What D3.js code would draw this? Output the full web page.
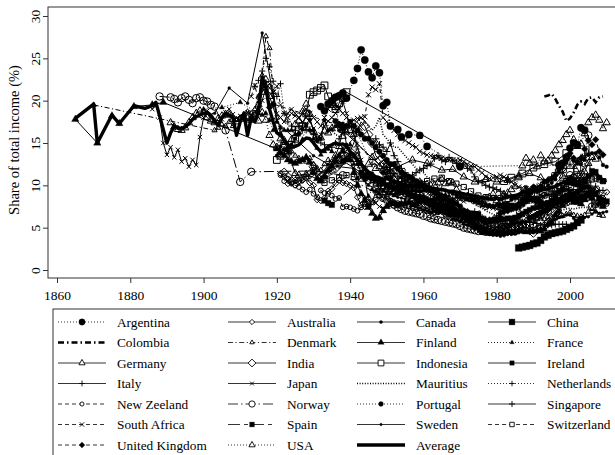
<!DOCTYPE html>
<html>
<head>
<meta charset="utf-8">
<script src="https://cdn.jsdelivr.net/npm/d3@7"></script>
<style>
  body { margin: 0; background: #fff; }
  text { font-family: "Liberation Serif", "Times New Roman", serif; fill: #000; }
</style>
</head>
<body>
<div id="chart"></div>
<script>
// Each segment: [first year, value, value, ...] for consecutive years
var argentina = [[1932, 19.3, 18.8, 19.6, 20.0, 20.4, 20.6, 20.9, 20.3],
  [1941, 22.4, 23.8, 26.0, 24.8, 23.4, 22.7, 24.1, 23.3, 19.4, 19.8, 17.0],
  [1953, 16.6, 15.7], [1956, 16.0], [1959, 15.9], [1961, 14.6], [1970, 12.2],
  [1997, 12.4, 12.6, 13.3, 14.4, 15.0, 14.8, 16.8, 16.5]];
var australia = [[1921, 11.4, 11.0, 10.2, 10.4, 10.6, 10.5, 10.6, 10.9, 10.3],
  [1930, 10.0, 8.3, 8.2, 8.5, 9.3, 9.6, 10.2, 10.6, 10.3, 10.2],
  [1940, 10.0, 9.7, 8.6, 7.7, 7.5, 7.6, 8.1, 9.2, 10.0, 10.7],
  [1950, 11.6, 11.3, 9.8, 9.4, 9.3, 9.0, 8.6, 7.9, 7.9, 8.0],
  [1960, 7.4, 7.3, 7.0, 6.9, 6.9, 6.9, 6.6, 6.6, 6.5, 6.4],
  [1970, 6.3, 6.0, 5.9, 5.9, 5.6, 5.3, 5.0, 4.8, 4.8, 4.7],
  [1980, 4.8, 4.7, 4.8, 5.1, 5.4, 5.8, 6.3, 6.6, 6.8, 6.4],
  [1990, 6.3, 6.6, 6.7, 6.9, 7.1, 7.5, 7.6, 7.8, 7.9, 8.1],
  [2000, 8.8, 8.5, 8.6, 8.7, 8.9, 9.0, 9.5, 9.5, 9.0, 8.5], [2010, 9.2]];
var canada = [[1920, 13.5, 14.6, 14.2, 14.0, 14.8, 15.5, 16.0, 16.6, 17.2, 17.8],
  [1930, 16.5, 15.2, 15.5, 17.7, 16.5, 16.6, 17.0, 16.5, 17.3, 14.8],
  [1940, 13.6, 13.6, 12.5, 11.6, 10.6, 10.9, 11.4, 10.9, 10.6, 10.5],
  [1950, 11.0, 10.3, 9.6, 9.6, 9.8, 9.8, 9.7, 9.4, 9.3, 9.3],
  [1960, 9.4, 9.4, 9.5, 9.4, 9.5, 9.5, 9.4, 9.2, 9.0, 8.9],
  [1970, 8.8, 8.6, 8.5, 8.4, 8.3, 8.2, 8.0, 7.8, 7.7, 7.6],
  [1980, 7.7, 7.5, 7.9, 7.9, 8.3, 8.6, 8.9, 9.3, 9.8, 9.5],
  [1990, 9.4, 9.2, 9.4, 9.7, 10.0, 10.3, 10.7, 11.5, 12.1, 12.7],
  [2000, 13.6, 12.9, 12.6, 12.5, 13.0, 13.6, 13.8, 13.8, 13.3, 12.4], [2010, 12.2]];
var china = [[1986, 2.6, 2.7, 2.8, 2.9],
  [1990, 3.1, 3.2, 3.5, 3.9, 4.1, 4.3, 4.4, 4.5, 4.6, 4.8],
  [2000, 5.0, 5.2, 5.6, 5.9]];
var colombia = [[1993, 20.5, 20.6, 20.8, 20.2, 19.4, 18.7, 17.6],
  [2000, 17.9, 18.6, 19.5, 19.9, 19.6, 20.3, 20.4, 19.8, 20.4, 20.5]];
var denmark = [[1870, 19.5], [1903, 16.5, 16.8, 17.2, 17.0, 17.5, 17.0, 17.8],
  [1910, 18.0, 18.4, 18.7, 18.5, 19.0, 20.5, 23.0, 27.6, 26.2, 21.0],
  [1920, 18.0, 16.0, 15.0, 14.5, 14.0, 13.5, 13.2, 13.0, 12.8, 13.2],
  [1930, 12.5, 12.0, 11.8, 12.5, 13.0, 12.8, 13.0, 12.5, 12.7, 13.3],
  [1940, 13.5, 13.0, 14.0, 12.5, 12.0, 11.0, 10.5, 10.2, 10.0, 9.8],
  [1950, 9.5, 9.4, 9.2, 9.0, 9.1, 8.9, 8.7, 8.6, 8.8, 8.5],
  [1960, 8.3, 8.1, 7.9, 7.6, 7.5, 7.3, 7.0, 6.8, 6.5, 6.3],
  [1970, 6.0, 5.8, 5.6, 5.6, 5.5, 5.4, 5.3, 5.2, 5.3, 5.4],
  [1980, 5.3, 5.2, 5.1, 5.2, 5.4, 5.6, 5.8, 5.7, 5.9, 5.8],
  [1990, 6.2, 6.0, 6.1, 6.0, 6.2, 6.0, 6.1, 6.3, 6.4, 6.6],
  [2000, 6.8, 6.5, 6.4, 6.3, 6.5, 6.9, 7.2, 6.9, 6.5, 6.4]];
var finland = [[1865, 17.8], [1871, 15.0], [1875, 18.2], [1877, 17.3], [1881, 19.3], [1886, 19.5], [1889, 19.8],
  [1920, 14.3, 13.8, 13.5, 13.0, 12.8, 12.6, 12.8, 13.0, 13.3, 12.7],
  [1930, 11.5, 10.8, 10.5, 11.0, 11.8, 12.2, 12.8, 13.5, 14.0, 13.0],
  [1940, 13.0, 11.5, 10.0, 9.0, 8.2, 7.4, 6.7, 6.1, 6.2, 7.0],
  [1950, 7.5, 8.0, 7.8, 7.6, 7.8, 7.9, 8.0, 7.7, 7.8, 8.1],
  [1960, 8.2, 8.0, 7.6, 7.4, 7.3, 7.2, 7.0, 6.8, 6.5, 6.5],
  [1970, 6.6, 6.2, 5.9, 5.6, 5.3, 5.0, 4.8, 4.5, 4.4, 4.3],
  [1980, 4.3, 4.4, 4.4, 4.5, 4.5, 4.6, 4.6, 4.7, 4.5, 4.6],
  [1990, 4.6, 4.7, 4.6, 4.8, 5.4, 5.6, 6.5, 6.9, 7.6, 8.3],
  [2000, 8.9, 8.0, 8.0, 7.8, 8.3, 8.9, 8.5, 8.9, 7.9, 7.5]];
var france = [[1900, 19.0], [1905, 19.2], [1910, 19.8], [1915, 18.5, 18.3, 18.5, 17.7, 16.5],
  [1920, 17.5, 16.8, 16.5, 16.5, 16.5, 16.0, 16.2, 15.4, 17.0, 16.5],
  [1930, 15.5, 14.4, 13.6, 14.0, 14.3, 14.0, 13.3, 13.5, 14.3, 14.5],
  [1940, 14.8, 12.5, 10.8, 9.0, 8.5, 8.7, 9.5, 9.3, 9.0, 9.3],
  [1950, 9.0, 9.0, 8.8, 9.0, 9.2, 9.3, 9.3, 9.5, 9.5, 9.3],
  [1960, 9.5, 9.5, 9.3, 9.0, 9.0, 8.9, 8.9, 8.7, 8.4, 8.6],
  [1970, 8.6, 8.5, 8.3, 8.2, 8.0, 7.9, 7.6, 7.6, 7.5, 7.5],
  [1980, 7.6, 7.6, 7.1, 7.0, 7.1, 7.2, 7.4, 7.7, 8.0, 8.3],
  [1990, 8.2, 7.9, 7.6, 7.7, 7.6, 7.8, 7.8, 7.9, 8.1, 8.2],
  [2000, 8.3, 8.2, 8.0, 8.1, 8.3, 8.7, 8.9]];
var germany = [[1891, 17.4, 16.9, 16.6, 16.5, 16.8, 17.4, 18.0, 18.5, 18.8],
  [1900, 18.6, 18.0, 17.6, 17.4, 17.9, 18.2, 18.4, 18.3, 17.8, 17.5],
  [1910, 17.8, 18.0, 17.9, 17.7, 18.4, 19.5, 21.0, 22.5, 20.5],
  [1925, 11.4, 11.2], [1928, 11.3], [1932, 10.6, 11.0, 12.0], [1936, 13.5, 14.6, 16.5],
  [1950, 11.6], [1957, 13.0], [1961, 12.6], [1965, 11.8], [1968, 11.9], [1971, 11.0],
  [1974, 10.4], [1977, 10.7], [1980, 10.4], [1983, 10.6], [1986, 11.1], [1989, 11.4],
  [1992, 10.9], [1995, 9.6], [1998, 11.1], [2001, 11.1, 10.5, 11.0, 11.6, 12.6, 13.3, 13.1]];
var india = [[1922, 11.5, 11.0, 10.5, 10.2, 10.5, 10.8, 11.0, 11.3],
  [1930, 12.2, 11.5, 11.0, 11.3, 11.5, 11.8, 12.0, 12.5, 13.0, 13.4],
  [1940, 14.0, 15.0, 16.5, 17.5, 17.0, 16.0, 15.0, 13.5, 13.0, 12.5],
  [1950, 12.2, 12.0, 11.6, 11.2, 10.8, 10.8, 10.3, 10.0, 9.7, 9.6],
  [1960, 9.5, 9.1, 8.8, 8.6, 8.3, 8.5, 8.2, 7.6, 7.2, 6.8],
  [1970, 6.5, 6.3, 6.0, 5.8, 5.6, 5.6, 5.2, 5.0, 4.8, 4.7],
  [1980, 4.5, 4.6, 4.4, 4.8, 5.1, 5.4, 5.6, 5.2, 5.0, 4.7],
  [1990, 4.4, 4.8, 5.0, 5.2, 5.6, 6.0, 6.6, 7.7, 8.4, 9.0]];
var indonesia = [[1920, 13.0, 13.5, 14.6, 14.0, 14.8, 15.5, 16.5, 17.0, 18.5, 20.7],
  [1930, 21.0, 21.2, 21.5, 21.8, 20.5, 19.6, 19.0, 19.7, 20.3, 21.0],
  [1982, 10.5], [1984, 10.9], [1987, 11.4], [1990, 12.1], [1993, 12.5], [1996, 12.8],
  [1999, 13.8], [2002, 12.0], [2004, 10.3]];
var ireland = [[1938, 12.9], [1943, 11.5, 11.2, 11.0, 10.8, 10.6, 10.4, 10.2],
  [1950, 10.0], [1953, 9.5], [1956, 9.0], [1959, 8.6], [1964, 7.1, 7.0, 6.9, 6.8, 6.8, 6.7],
  [1970, 6.7, 6.8, 6.7, 6.7, 6.6, 6.6, 6.1, 5.6, 5.8, 5.9],
  [1980, 6.0, 6.1, 6.0, 6.1, 6.1, 6.2, 6.4, 6.6, 6.9, 7.1],
  [1990, 7.3, 7.4, 7.5, 7.7, 7.9, 8.2, 8.7, 9.2, 9.6, 10.3],
  [2000, 10.3, 10.2, 10.1, 9.9, 10.4, 11.1, 11.7, 11.6, 10.9, 10.5]];
var italy = [[1974, 6.9, 6.3, 6.2, 6.0, 5.9, 6.0],
  [1980, 6.4, 6.7, 6.8, 7.1, 7.2, 7.4, 7.8, 7.9, 8.1, 8.2],
  [1990, 8.4, 8.5, 8.6, 8.8, 8.9, 8.9, 9.0, 9.2, 9.3, 9.6],
  [2000, 9.4, 9.5, 9.5, 9.2, 9.3, 9.3, 9.6, 9.9, 9.4, 9.4]];
var japan = [[1886, 19.0, 19.5, 18.0, 15.0],
  [1890, 13.6, 14.5, 13.3, 14.2, 12.8, 13.2, 12.2, 13.0, 12.4, 15.7],
  [1900, 18.0, 18.8, 18.3, 17.6, 17.2, 17.8, 18.6, 19.0, 18.4, 17.9],
  [1910, 18.2, 18.0, 18.6, 18.3, 17.8, 18.5, 20.0, 21.5, 22.0, 21.0],
  [1920, 18.5, 18.0, 17.5, 18.5, 19.0, 18.5, 18.0, 17.5, 18.0, 17.5],
  [1930, 16.7, 15.5, 16.0, 17.0, 17.6, 18.0, 18.5, 19.2, 19.9, 18.5],
  [1940, 17.0, 16.0, 14.5, 13.0, 11.0, 8.2], [1947, 7.9, 7.5, 7.3],
  [1950, 7.5, 7.6, 7.8, 7.9, 7.8, 7.7, 7.9, 7.7, 7.6, 7.9],
  [1960, 8.2, 8.3, 8.1, 8.0, 7.9, 7.6, 7.7, 7.9, 8.0, 8.2],
  [1970, 8.3, 8.1, 8.4, 8.6, 8.3, 7.8, 7.7, 7.5, 7.4, 7.3],
  [1980, 7.2, 7.1, 7.0, 7.1, 7.2, 7.4, 7.6, 7.9, 8.2, 8.5],
  [1990, 8.1, 7.9, 7.6, 7.5, 7.3, 7.3, 7.4, 7.5, 7.6, 7.9],
  [2000, 8.2, 8.0, 8.4, 8.6, 9.0, 9.2]];
var mauritius = [[1933, 17.6, 17.0, 16.5, 16.0, 15.8, 16.2, 16.5],
  [1940, 16.8, 17.2, 17.5, 18.0, 17.5, 17.0, 16.5, 17.0, 18.0, 16.0],
  [1950, 15.5, 15.0, 14.5, 14.5, 14.0, 13.5, 13.0, 12.5, 12.0, 11.8],
  [1960, 11.5, 11.0, 10.8, 10.5, 10.0, 9.8, 9.5, 9.2, 9.0, 8.8],
  [1970, 8.6, 8.4, 8.2, 8.0, 7.8, 7.5, 7.3, 7.0, 6.8, 6.6],
  [1980, 6.4, 6.3, 6.1, 6.0, 6.0, 6.0, 6.2, 6.3, 6.4, 6.5],
  [1990, 6.5, 6.6, 6.5, 6.4, 6.5, 6.5, 6.8, 7.0, 7.1, 7.2],
  [2000, 7.3, 7.2, 7.3, 7.4, 7.4, 7.4, 7.6, 7.9, 8.1]];
var netherlands = [[1914, 21.7, 22.4, 23.5, 25.0, 24.0, 22.3],
  [1920, 20.5, 22.0, 18.5, 17.5, 17.0, 16.5, 17.0, 17.0, 16.5, 16.6],
  [1930, 16.0, 15.5, 15.0, 14.8, 14.5, 14.5, 15.0, 15.5, 16.5, 17.0],
  [1941, 17.0], [1946, 12.5],
  [1950, 12.1, 11.8, 11.4, 11.0, 10.8, 10.6, 10.4, 10.2, 10.0, 9.9],
  [1960, 9.9, 9.6, 9.2, 8.9, 8.6, 8.5, 8.2, 7.8, 7.4, 7.0],
  [1970, 6.7, 6.5, 6.3, 6.1, 6.0, 6.0, 5.9, 5.9, 5.8, 5.8],
  [1980, 5.9, 5.7, 5.5, 5.4, 5.5, 5.5, 5.5, 5.6, 5.6, 5.6],
  [1990, 5.6, 5.5, 5.3, 5.4, 5.3, 5.3, 5.4, 5.4, 5.4, 5.4]];
var newZeeland = [[1921, 11.2, 10.5, 10.8, 10.2, 10.0, 9.8, 9.5, 9.2, 9.5],
  [1930, 9.0, 8.6, 9.4, 9.1, 9.0, 8.8, 8.4, 8.5, 7.4, 7.5],
  [1940, 7.4, 7.2, 7.0, 7.4, 7.8, 7.5, 8.0, 8.3, 8.8, 8.5],
  [1950, 8.7, 8.2, 8.0, 7.9, 7.8, 7.6, 7.5, 7.3, 7.2, 7.3],
  [1960, 7.2, 7.0, 6.9, 6.8, 6.8, 6.9, 6.5, 6.4, 6.3, 6.2],
  [1970, 6.1, 6.0, 6.0, 6.1, 6.0, 6.0, 5.9, 5.8, 5.7, 5.7],
  [1980, 5.7, 5.5, 5.5, 5.6, 5.8, 5.9, 6.9, 7.7, 8.6, 8.5],
  [1990, 8.2, 8.3, 8.6, 8.9, 9.1, 8.5, 9.0, 9.3, 9.1, 9.6],
  [2000, 9.5, 8.6, 8.9, 8.5, 8.7, 8.5, 8.5, 7.8, 7.7, 7.8], [2010, 7.8]];
var norway = [[1888, 20.5], [1891, 20.4, 20.2, 19.8, 20.3, 20.5, 20.1, 19.7, 20.3, 20.4],
  [1900, 20.0, 19.9, 19.5, 19.3], [1906, 16.5], [1910, 10.4], [1913, 11.6],
  [1930, 11.7], [1938, 11.2], [1948, 8.9, 8.5],
  [1950, 8.3, 8.0, 7.7, 7.4, 7.2, 7.0, 6.9, 6.8, 6.7, 6.6],
  [1960, 6.4, 6.3, 6.1, 6.0, 5.9, 5.8, 5.7, 5.6, 5.5, 5.4],
  [1970, 5.2, 5.0, 4.9, 4.8, 4.7, 4.6, 4.6, 4.5, 4.5, 4.6],
  [1980, 4.6, 4.7, 4.8, 4.9, 5.0, 5.1, 5.3, 5.4, 5.4, 5.3],
  [1990, 5.4, 6.4, 6.6, 6.9, 7.0, 7.8, 8.2, 8.4, 8.1, 8.0],
  [2000, 11.2, 10.9, 11.0, 11.3, 12.6, 15.9, 7.5, 7.8, 8.0, 7.9]];
var portugal = [[1936, 17.6, 17.2, 16.8, 17.0],
  [1940, 17.5, 17.0, 16.5, 16.0, 15.5, 15.5, 15.0, 14.5, 14.0, 13.5],
  [1950, 13.0, 12.5, 12.5, 12.0, 11.5, 11.2, 11.0, 10.8, 10.5, 10.2],
  [1960, 10.0, 9.8, 9.5, 9.2, 9.0, 8.7, 8.5, 8.2, 8.0, 7.8],
  [1970, 7.5, 7.0, 6.5, 6.0, 5.0], [1976, 4.5], [1981, 4.3], [1985, 4.4], [1989, 6.2],
  [1990, 6.3, 6.5, 6.8, 7.0, 7.2, 7.7, 8.0, 8.2, 8.5, 8.8],
  [2000, 8.9, 9.0, 9.2, 9.5, 9.8, 9.8]];
var singapore = [[1947, 15.5, 14.8, 14.5],
  [1950, 14.0, 15.0, 13.5, 12.8, 12.0, 11.5, 11.0, 11.2, 11.5, 11.8],
  [1960, 12.0, 12.3, 12.5, 13.2, 13.5, 13.0, 12.8, 13.3, 12.9, 12.6],
  [1970, 12.6, 12.5, 12.0, 11.8, 11.0, 10.5, 10.3, 10.0, 9.8, 9.7],
  [1980, 9.5, 9.3, 9.0, 8.8, 8.6, 8.4, 8.5, 8.8, 9.0, 9.3],
  [1990, 9.5, 9.8, 10.0, 10.3, 10.6, 11.0, 11.5, 11.8, 11.5, 12.0],
  [2000, 12.5, 12.0, 12.8, 13.3, 13.5, 13.8]];
var southAfrica = [[1913, 20.5, 21.8, 20.0, 21.5, 22.0, 21.5, 21.0],
  [1920, 21.7, 19.5, 18.5, 18.0, 18.5, 18.2, 18.0, 18.5, 19.0, 18.5],
  [1930, 18.0, 17.5, 17.0, 18.0, 19.0, 19.5, 19.5, 19.0, 18.5, 18.0],
  [1940, 17.5, 17.7, 17.9, 18.0, 18.1, 20.7, 21.6, 21.3, 22.0, 18.0],
  [1950, 17.5, 17.0, 16.5, 16.0, 15.5, 15.3, 15.0, 14.7, 14.5, 14.0],
  [1960, 13.8, 13.6, 13.5, 13.4, 13.3, 13.2, 13.1, 13.0, 13.0, 13.0],
  [1970, 13.0, 12.8, 12.5, 12.3, 12.2, 11.8, 11.5, 11.0, 10.8, 10.9],
  [1980, 11.0, 11.2, 11.0, 10.6, 10.4, 10.0, 9.8, 9.7, 9.6, 9.5],
  [1990, 9.6, 9.8, 10.0, 10.5]];
var spain = [[1933, 8.2, 7.9, 7.7], [1944, 11.0, 11.3, 11.0, 10.8, 10.5, 10.3],
  [1950, 10.0, 9.8, 9.6, 9.4, 9.7, 9.3, 9.0, 8.8, 8.5],
  [1960, 8.2, 8.0, 7.9, 7.8, 7.7, 7.5, 7.3, 7.2, 7.0, 6.8], [1970, 6.6, 6.5],
  [1981, 7.6, 7.5, 7.4, 7.6, 7.5, 7.6, 7.9, 8.2, 8.4],
  [1990, 8.4, 8.2, 8.0, 7.8, 7.9, 8.0, 8.1, 8.3, 8.4, 8.5],
  [2000, 8.6, 8.5, 8.5, 8.6, 8.7, 8.8, 9.1, 9.0, 8.5, 8.2], [2010, 8.1]];
var sweden = [[1903, 18.5], [1907, 21.5], [1912, 19.7], [1916, 28.0], [1919, 20.5, 17.5],
  [1930, 13.5], [1934, 12.5, 12.3], [1941, 12.0], [1943, 11.0], [1945, 10.0], [1948, 9.5],
  [1950, 9.2, 9.0, 8.8, 8.6, 8.5, 8.4, 8.0, 7.7, 7.5, 7.3],
  [1960, 7.1, 7.0, 6.8, 6.9, 6.8, 6.9, 6.6, 6.4, 6.0, 5.9],
  [1970, 5.7, 5.4, 5.3, 5.1, 4.9, 4.6, 4.5, 4.3, 4.2, 4.1],
  [1980, 4.1, 4.0, 4.1, 4.2, 4.2, 4.3, 4.4, 4.5, 4.6, 4.5],
  [1990, 4.4, 4.7, 4.8, 5.0, 5.3, 5.8, 6.0, 6.2, 6.3, 6.5],
  [2000, 6.5, 6.1, 5.9, 6.0, 6.2, 6.3, 6.6, 6.9, 6.7, 6.8], [2010, 6.9]];
var switzerland = [[1933, 10.3], [1935, 10.6], [1937, 10.9], [1939, 11.2], [1941, 11.0],
  [1943, 10.8], [1945, 10.5], [1947, 10.2], [1949, 9.8], [1951, 9.6], [1953, 9.5],
  [1955, 9.8], [1957, 10.0], [1959, 10.3], [1961, 10.5], [1963, 10.8], [1965, 10.9],
  [1967, 10.5], [1969, 10.2], [1971, 9.8], [1973, 9.3], [1975, 8.8], [1977, 8.6],
  [1979, 8.5], [1981, 8.5], [1983, 8.4], [1985, 8.6], [1987, 8.9], [1989, 9.2],
  [1991, 9.0], [1993, 8.8], [1995, 9.0], [1996, 9.4, 9.9, 10.3, 10.5],
  [2000, 10.8, 10.5, 10.2, 10.3, 10.5, 10.6, 10.7, 10.8, 10.7, 10.5]];
var unitedKingdom = [[1918, 19.2, 19.6], [1937, 17.1, 16.9], [1949, 11.5],
  [1951, 10.9, 10.4, 9.9, 9.6, 9.3, 9.1, 8.8, 8.7, 8.7],
  [1960, 8.6, 8.3, 8.2, 8.4, 8.4, 8.1, 7.7, 7.5, 7.3, 7.0],
  [1970, 7.0, 7.0, 6.9, 6.6, 6.4, 6.1, 5.9, 5.9, 5.9, 5.9],
  [1980, 5.9, 6.7, 6.9, 7.0, 7.3, 7.5, 7.8, 8.3, 8.6, 9.0],
  [1990, 9.8, 9.5, 9.8, 10.4, 10.6, 10.8, 11.2, 12.0, 12.5, 13.0],
  [2000, 13.8, 13.2, 12.8, 13.2, 14.3, 15.3, 14.8, 15.4, 14.0, 13.6]];
var usa = [[1913, 18.0, 18.2, 17.6, 18.6, 17.7, 15.9, 14.8],
  [1920, 14.5, 15.5, 15.3, 14.0, 15.4, 17.2, 17.6, 18.7, 19.6, 18.4],
  [1930, 16.4, 15.6, 15.6, 16.4, 16.2, 16.7, 19.2, 17.1, 15.8, 16.3],
  [1940, 16.5, 16.0, 13.4, 12.3, 11.3, 12.5, 13.3, 12.0, 12.2, 11.8],
  [1950, 12.8, 11.6, 10.8, 10.2, 10.7, 10.9, 10.6, 10.3, 10.0, 10.4],
  [1960, 10.0, 10.1, 10.0, 10.0, 10.3, 10.7, 10.2, 10.3, 10.3, 9.5],
  [1970, 8.9, 8.7, 8.7, 8.4, 8.5, 8.4, 8.3, 8.4, 8.6, 9.0],
  [1980, 8.2, 8.0, 8.9, 9.1, 9.5, 9.9, 10.9, 12.3, 13.2, 12.6],
  [1990, 13.0, 12.2, 13.5, 12.8, 12.9, 13.5, 14.1, 14.8, 15.3, 16.0],
  [2000, 16.5, 15.4, 14.6, 14.9, 16.1, 17.4, 18.0, 18.3, 17.7, 16.7], [2010, 17.4]];
var average = [[1865, 17.9], [1870, 19.6, 15.0], [1875, 18.3], [1877, 17.3], [1881, 19.4],
  [1884, 19.1], [1886, 19.4, 19.8],
  [1890, 15.0, 16.2, 17.0, 16.8, 16.7, 16.9, 17.3, 17.8, 18.1, 18.3],
  [1900, 18.5, 18.6, 18.3, 17.6, 17.1, 18.0, 18.5, 18.3, 18.0, 15.9],
  [1910, 17.5, 18.5, 15.9, 18.0, 17.5, 18.8, 22.8, 21.5, 19.0, 17.5],
  [1920, 16.2, 16.0, 15.3, 14.8, 14.5, 14.6, 14.8, 15.2, 15.6, 15.5],
  [1930, 15.0, 14.4, 14.0, 14.2, 14.6, 14.8, 15.0, 14.8, 14.9, 14.6],
  [1940, 14.0, 13.6, 13.0, 12.5, 12.0, 11.6, 11.3, 11.0, 10.9, 10.7],
  [1950, 10.8, 10.6, 10.4, 10.3, 10.2, 10.1, 10.0, 9.9, 9.8, 9.8],
  [1960, 9.8, 9.7, 9.7, 9.6, 9.5, 9.5, 9.4, 9.3, 9.3, 9.2],
  [1970, 9.1, 9.0, 8.9, 8.8, 8.7, 8.6, 8.5, 8.5, 8.4, 8.4],
  [1980, 8.5, 8.4, 8.5, 8.6, 8.7, 8.8, 8.9, 9.1, 9.3, 9.4],
  [1990, 9.4, 9.3, 9.4, 9.5, 9.6, 9.7, 9.9, 10.1, 10.3, 10.5],
  [2000, 10.9, 10.6, 10.4, 10.5, 10.8, 11.0, 11.3, 11.4, 11.0, 10.5], [2010, 10.6]];

var countryNames = ["Argentina", "Australia", "Canada", "China", "Colombia", "Denmark",
  "Finland", "France", "Germany", "India", "Indonesia", "Ireland", "Italy", "Japan",
  "Mauritius", "Netherlands", "New Zeeland", "Norway", "Portugal", "Singapore",
  "South Africa", "Spain", "Sweden", "Switzerland", "United Kingdom", "USA"];
var countryData = [argentina, australia, canada, china, colombia, denmark, finland, france,
  germany, india, indonesia, ireland, italy, japan, mauritius, netherlands, newZeeland,
  norway, portugal, singapore, southAfrica, spain, sweden, switzerland, unitedKingdom, usa];
var xTicks = [1860, 1880, 1900, 1920, 1940, 1960, 1980, 2000];
var yTicks = [0, 5, 10, 15, 20, 25, 30];

// line type + symbol for each country (R-style)
var DOT = "1,2", DASH = "4,3", DOTDASH = "5,2.5,1.2,2.5";
var styles = {
  "Argentina":      {dash: DOT,  shape: "circle",   r: 3.7, fill: true},
  "Australia":      {dash: null, shape: "diamond",  r: 3.1, fill: false},
  "Canada":         {dash: null, shape: "circle",   r: 1.9, fill: true},
  "China":          {dash: null, shape: "square",   r: 3.4, fill: true},
  "Colombia":       {dash: "6,3,1.5,3", shape: null, width: 2.6},
  "Denmark":        {dash: DOTDASH, shape: "triangle", r: 3.0, fill: false},
  "Finland":        {dash: null, shape: "triangle", r: 4.3, fill: true},
  "France":         {dash: DOT,  shape: "triangle", r: 3.0, fill: true},
  "Germany":        {dash: null, shape: "triangle", r: 4.2, fill: false},
  "India":          {dash: null, shape: "diamond",  r: 4.6, fill: false},
  "Indonesia":      {dash: null, shape: "square",   r: 3.4, fill: false},
  "Ireland":        {dash: null, shape: "square",   r: 2.6, fill: true},
  "Italy":          {dash: null, shape: "plus",     r: 3.4},
  "Japan":          {dash: null, shape: "times",    r: 2.2},
  "Mauritius":      {dash: "1,1.6", shape: null, width: 1.6},
  "Netherlands":    {dash: DOT,  shape: "plus",     r: 3.2},
  "New Zeeland":    {dash: DASH, shape: "circle",   r: 2.4, fill: false},
  "Norway":         {dash: "10,3,1.5,3", shape: "circle", r: 3.7, fill: false},
  "Portugal":       {dash: DOT,  shape: "circle",   r: 2.8, fill: true},
  "Singapore":      {dash: null, shape: "plus",     r: 3.6},
  "South Africa":   {dash: DASH, shape: "times",    r: 2.6},
  "Spain":          {dash: "12,4,4,4", shape: "square", r: 2.8, fill: true},
  "Sweden":         {dash: null, shape: "circle",   r: 1.5, fill: true},
  "Switzerland":    {dash: DASH, shape: "square",   r: 2.6, fill: false},
  "United Kingdom": {dash: DASH, shape: "diamond",  r: 3.4, fill: true},
  "USA":            {dash: DOT,  shape: "triangle", r: 4.2, fill: false}
};

var svgWidth = 615, svgHeight = 455;
var box = {left: 48, top: 7, right: 620, bottom: 278};

var svg = d3.select("#chart").append("svg")
  .attr("width", svgWidth)
  .attr("height", svgHeight);

var x = d3.scaleLinear().domain([1860, 2000]).range([57, 570]);
var y = d3.scaleLinear().domain([0, 30]).range([270, 16]);

function expand(segs) {
  var out = [];
  segs.forEach(function(s) {
    for (var i = 1; i < s.length; i++) out.push({year: s[0] + i - 1, value: s[i]});
  });
  return out.sort(function(a, b) { return a.year - b.year; });
}

function shapePath(shape, r) {
  if (shape == "circle") return "M" + (-r) + ",0A" + r + "," + r + " 0 1,0 " + r + ",0A" + r + "," + r + " 0 1,0 " + (-r) + ",0Z";
  if (shape == "square") return "M" + (-r) + "," + (-r) + "H" + r + "V" + r + "H" + (-r) + "Z";
  if (shape == "triangle") return "M0," + (-r) + "L" + (r * 0.866) + "," + (r * 0.5) + "L" + (-r * 0.866) + "," + (r * 0.5) + "Z";
  if (shape == "diamond") return "M0," + (-r) + "L" + r + ",0L0," + r + "L" + (-r) + ",0Z";
  if (shape == "plus") return "M" + (-r) + ",0H" + r + "M0," + (-r) + "V" + r;
  if (shape == "times") return "M" + (-r) + "," + (-r) + "L" + r + "," + r + "M" + (-r) + "," + r + "L" + r + "," + (-r);
}

function drawMarks(g, pts, st) {
  if (!st.shape) return;
  var open = (st.shape == "plus" || st.shape == "times" || !st.fill);
  g.selectAll("path.mark")
    .data(pts)
    .enter()
    .append("path")
    .attr("class", "mark")
    .attr("transform", d => `translate(${x(d.year)},${y(d.value)})`)
    .attr("d", shapePath(st.shape, st.r))
    .attr("fill", open ? "none" : "#000")
    .attr("stroke", "#000")
    .attr("stroke-width", open ? 1.0 : 0.3);
}

svg.append("clipPath").attr("id", "plotclip")
  .append("rect")
  .attr("x", box.left).attr("y", box.top)
  .attr("width", box.right - box.left).attr("height", box.bottom - box.top);

var plotGroup = svg.append("g").attr("clip-path", "url(#plotclip)");

var line = d3.line().x(d => x(d.year)).y(d => y(d.value));

// Average first, countries drawn over it
plotGroup.append("path")
  .datum(expand(average))
  .attr("d", line)
  .attr("fill", "none")
  .attr("stroke", "#000")
  .attr("stroke-width", 3.4)
  .attr("stroke-linejoin", "round");

countryNames.forEach(function(name, i) {
  var st = styles[name];
  var pts = expand(countryData[i]);
  var g = plotGroup.append("g").attr("class", "country");
  g.append("path")
    .datum(pts)
    .attr("d", line)
    .attr("fill", "none")
    .attr("stroke", "#000")
    .attr("stroke-width", st.width || 1.0)
    .attr("stroke-dasharray", st.dash);
  drawMarks(g, pts, st);
});

// Box
svg.append("rect")
  .attr("x", box.left).attr("y", box.top)
  .attr("width", box.right - box.left).attr("height", box.bottom - box.top)
  .attr("fill", "none")
  .attr("stroke", "#333")
  .attr("stroke-width", 1);

// Axes
var bottomAxis = d3.axisBottom(x).tickValues(xTicks).tickFormat(d3.format("d")).tickSize(5).tickPadding(7);
var xAxisG = svg.append("g")
  .attr("transform", `translate(0, ${box.bottom})`)
  .call(bottomAxis);
xAxisG.select(".domain").remove();
xAxisG.selectAll("text").attr("font-size", 13.5).attr("font-family", "Liberation Serif, serif");
xAxisG.selectAll("line").attr("stroke", "#333");

var leftAxis = d3.axisLeft(y).tickValues(yTicks).tickSize(5);
var yAxisG = svg.append("g")
  .attr("transform", `translate(${box.left}, 0)`)
  .call(leftAxis);
yAxisG.select(".domain").remove();
yAxisG.selectAll("line").attr("stroke", "#333");
yAxisG.selectAll("text")
  .attr("transform", "rotate(-90)")
  .attr("x", 0)
  .attr("y", -8)
  .attr("dy", 0)
  .attr("text-anchor", "middle")
  .attr("font-size", 13.5)
  .attr("font-family", "Liberation Serif, serif");

svg.append("text")
  .attr("transform", "translate(19, 140) rotate(-90)")
  .attr("text-anchor", "middle")
  .attr("font-size", 14.5)
  .text("Share of total income (%)");

// Legend
var legend = svg.append("g").attr("class", "legend");
legend.append("rect")
  .attr("x", 53).attr("y", 309)
  .attr("width", 600).attr("height", 200)
  .attr("fill", "none")
  .attr("stroke", "#333")
  .attr("stroke-width", 1);

var colX = [58, 228, 357, 488];
var legendNames = countryNames.concat(["Average"]);
legendNames.forEach(function(name, i) {
  var cx = colX[i % 4];
  var cy = 322 + Math.floor(i / 4) * 20.5;
  var item = legend.append("g");
  if (name == "Average") {
    item.append("line")
      .attr("x1", cx).attr("x2", cx + 48).attr("y1", cy).attr("y2", cy)
      .attr("stroke", "#000").attr("stroke-width", 3.4);
  } else {
    var st = styles[name];
    item.append("line")
      .attr("x1", cx).attr("x2", cx + 48).attr("y1", cy).attr("y2", cy)
      .attr("stroke", "#000")
      .attr("stroke-width", st.width || 0.8)
      .attr("stroke-dasharray", st.dash);
    if (st.shape) {
      var open = (st.shape == "plus" || st.shape == "times" || !st.fill);
      item.append("path")
        .attr("transform", `translate(${cx + 24},${cy})`)
        .attr("d", shapePath(st.shape, st.r * 0.85))
        .attr("fill", open ? "#fff" : "#000")
        .attr("stroke", "#000")
        .attr("stroke-width", open ? 0.9 : 0.3);
    }
  }
  item.append("text")
    .attr("x", cx + 59)
    .attr("y", cy + 4.5)
    .attr("font-size", 13.3)
    .text(name);
});
</script>
</body>
</html>
